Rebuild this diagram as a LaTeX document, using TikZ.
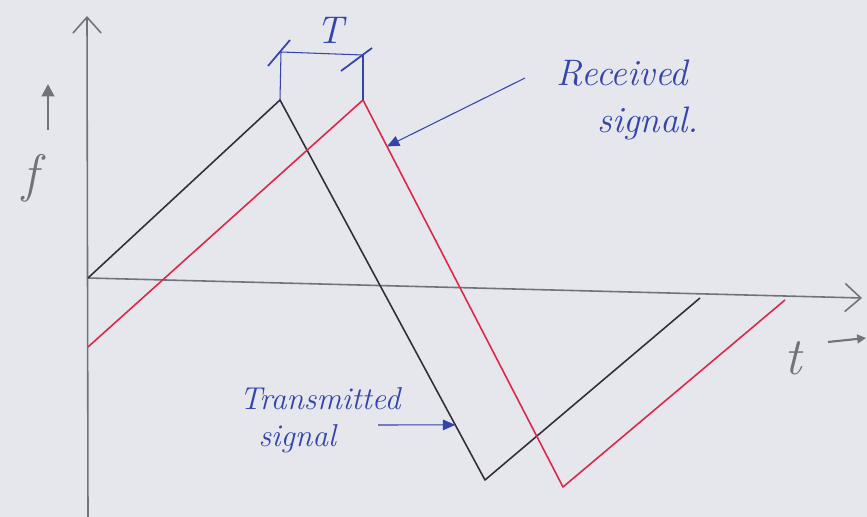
\documentclass[tikz,border=0pt]{standalone}
\usepackage{tikz}
\usetikzlibrary{arrows.meta, positioning, calc}

\definecolor{paper}{RGB}{229,231,237}
\definecolor{pencil}{RGB}{112,114,124}
\definecolor{inkblue}{RGB}{52,68,168}
\definecolor{rxred}{RGB}{222,38,72}
\definecolor{txdark}{RGB}{52,46,58}

\begin{document}
\begin{tikzpicture}[x=0.02cm, y=-0.02cm,
        axis/.style={draw=pencil, line width=0.9pt, -{Straight Barb[length=9pt, width=16pt, line width=0.9pt]}},
        txline/.style={draw=txdark, line width=0.9pt, line join=round},
        rxline/.style={draw=rxred, line width=0.9pt, line join=round},
        ink/.style={draw=inkblue, line width=0.6pt},
        inkarrow/.style={ink, -{Triangle[length=7pt, width=6pt]}},
        hand/.style={text=inkblue, font=\itshape\fontsize{18}{21}\selectfont, align=left},
        axlabel/.style={text=pencil, font=\itshape\fontsize{30}{34}\selectfont}
    ]
        \fill[paper] (0,0) rectangle (867,517);
        \useasboundingbox (0,0) rectangle (867,517);

        % axes
        \coordinate (origin) at (88,278);
        \draw[axis] (88,517) -- (87,16);
        \draw[axis] (origin) -- (862,298);
        \node[axlabel] (flabel) at (30,178) {f};
        \node[axlabel] (tlabel) at (793,358) {t};
        \draw[draw=pencil, line width=1.6pt, -{Triangle[length=7pt, width=7pt]}] (48,130) -- (48,84);
        \draw[draw=pencil, line width=1.2pt, -{Triangle[length=5pt, width=5pt]}] (828,342) -- (866,338);

        % transmitted and received signals
        \coordinate (tpeak) at (280,100);
        \coordinate (tlow) at (485,480);
        \coordinate (rstart) at (88,347);
        \coordinate (rpeak) at (363,100);
        \coordinate (rlow) at (563,487);
        \draw[txline] (origin) -- (tpeak) -- coordinate[pos=0.855] (thit) (tlow) -- (700,298);
        \draw[rxline] (rstart) -- (rpeak) -- coordinate[pos=0.12] (rhit) (rlow) -- (785,300);

        % delay T
        \coordinate (tleft) at (281,52);
        \coordinate (tright) at (363,55);
        \draw[ink] (tpeak) -- (tleft);
        \draw[ink] (rpeak) -- (tright);
        \draw[ink] (tleft) -- (tright);
        \draw[ink, line width=1pt] ($(tleft)+(-13,14)$) -- ($(tleft)+(9,-12)$);
        \draw[ink, line width=1pt] ($(tright)+(-22,16)$) -- ($(tright)+(9,-7)$);
        \node[hand, font=\itshape\fontsize{22}{24}\selectfont] (tdelay) at (330,30) {T};

        % labels
        \node[hand, font=\itshape\fontsize{21}{25}\selectfont] (rxtext) at (628,100) {Received\\[2pt]\hspace*{1.1em}signal.};
        \node[hand] (txtext) at (320,420) {Transmitted\\[0pt]\hspace*{0.6em}signal};
        \draw[inkarrow] (525,78) -- (rhit);
        \draw[inkarrow] (378,425) -- (thit);
\end{tikzpicture}
\end{document}
